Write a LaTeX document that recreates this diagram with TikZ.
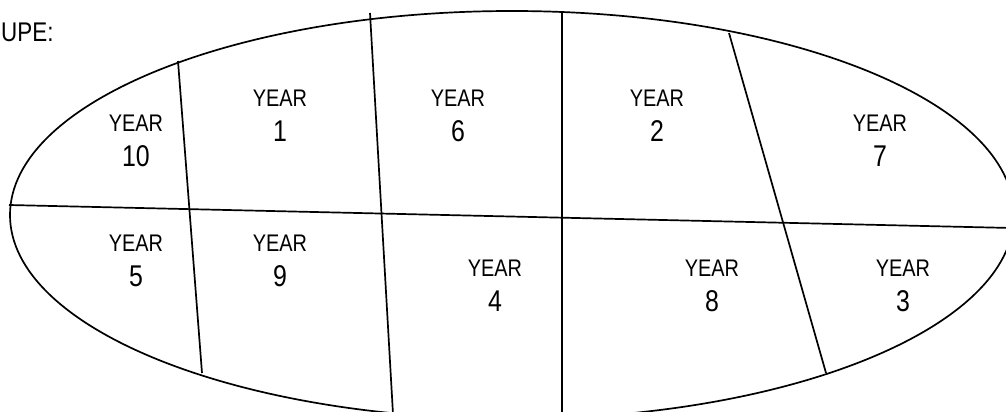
\documentclass[tikz,border=0pt]{standalone}
\usepackage{fontspec}
\setmainfont{Liberation Sans}[FakeStretch=0.83]
\usetikzlibrary{positioning}

\begin{document}
\begin{tikzpicture}[
    x=1pt, y=-1pt,
    part/.style={line width=1.7pt},
    yr/.style={inner sep=0pt, font=\fontsize{24}{24}\selectfont},
    num/.style={inner sep=0pt, font=\fontsize{30}{30}\selectfont},
]
    \useasboundingbox (0,0) rectangle (1006,412);
    \clip (0,0) rectangle (1006,412);
    \draw[part] (512,215) ellipse [x radius=502pt, y radius=204pt];
    % dividing lines
    \coordinate (hl) at (9,205);
    \coordinate (hr) at (1012,228);
    \coordinate (d1t) at (178,61);
    \coordinate (d1b) at (202,373);
    \coordinate (d2t) at (370,13);
    \coordinate (d2b) at (393,414);
    \coordinate (d3t) at (562,13);
    \coordinate (d3b) at (562,414);
    \coordinate (d4t) at (729,33);
    \coordinate (d4b) at (826,373);
    \draw[part] (hl) -- (hr);
    \draw[part] (d1t) -- (d1b);
    \draw[part] (d2t) -- (d2b);
    \draw[part] (d3t) -- (d3b);
    \draw[part] (d4t) -- (d4b);
    \node[anchor=west, inner sep=0pt, font=\fontsize{27}{27}\selectfont]
         (title) at (1,32) {UPE:};
    \foreach \n/\x/\y in {10/136/123, 1/280/98, 6/458/98, 2/657/98,
                          7/880/123, 5/136/243, 9/280/243, 4/495/268,
                          8/712/268, 3/903/268} {
        \node[yr] (yr\n) at (\x,\y) {YEAR};
        \node[num] (num\n) at (\x,\y+33) {\n};
    }
\end{tikzpicture}
\end{document}
